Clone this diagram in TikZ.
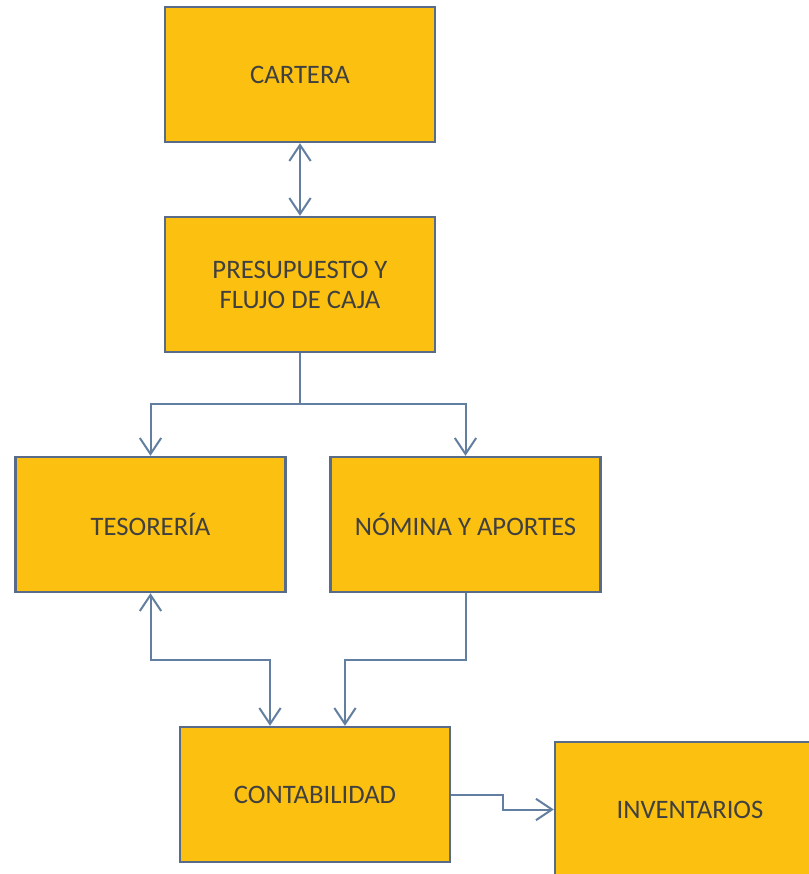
\documentclass[tikz,border=0pt]{standalone}
\usepackage{fontspec}
\setmainfont{Carlito}
\usetikzlibrary{arrows.meta}
\tikzset{>={Straight Barb[length=12pt,width=16pt]}}
\definecolor{cfill}{RGB}{252,193,16}
\definecolor{cline}{RGB}{88,108,138}
\definecolor{cflecha}{RGB}{98,126,160}
\definecolor{ctexto}{RGB}{64,64,64}
\tikzset{caja/.style={draw=cline, line width=1.8pt, fill=cfill, minimum width=202.5pt,
    minimum height=101.25pt, inner sep=0pt, align=center, text=ctexto,
    font=\fontsize{20}{22.5}\selectfont}}
\tikzset{flecha/.style={draw=cflecha, line width=1.5pt}}

\begin{document}
\begin{tikzpicture}[x=0.75pt, y=-0.75pt]
    \clip(0, 0)rectangle(809, 874);
    \fill[white](0, 0)rectangle(809, 874);
    % cajas
    \node[caja] (cart) at (300, 74.5) {CARTERA};
    \node[caja] (pres) at (300, 284.5) {PRESUPUESTO Y\\FLUJO DE CAJA};
    \node[caja] (teso) at (150.5, 524.5) {TESORERÍA};
    \node[caja] (nomi) at (465.5, 524.5) {NÓMINA Y APORTES};
    \node[caja] (cont) at (315, 794.5) {CONTABILIDAD};
    \node[caja] (inve) at (690, 809.5) {INVENTARIOS};
    % flechas
    \draw[flecha, <->](cart.south)--(pres.north);
    \draw[flecha](pres.south)--++(0, 51) coordinate (rama);
    \draw[flecha, ->](rama)-|(teso.north);
    \draw[flecha, ->](rama)-|(nomi.north);
    \draw[flecha, <->](teso.south)--++(0, 67)-|([xshift=-33.75pt]cont.north);
    \draw[flecha, ->](nomi.south)--++(0, 67)-|([xshift=22.5pt]cont.north);
    \draw[flecha, ->](cont.east)--++(52, 0)|-(inve.west);
\end{tikzpicture}
\end{document}
